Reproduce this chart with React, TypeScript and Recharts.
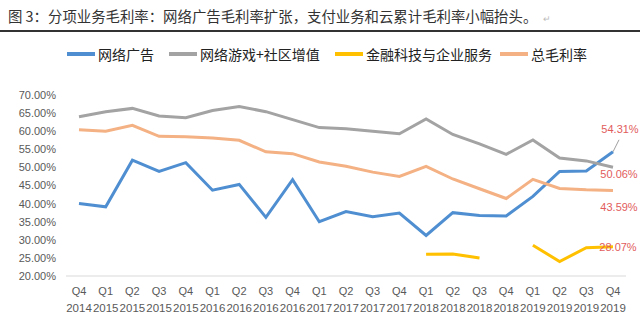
import React from 'react'
import { LineChart, Line, XAxis, YAxis, Legend } from 'recharts'

const quarters = ['Q4', 'Q1', 'Q2', 'Q3', 'Q4', 'Q1', 'Q2', 'Q3', 'Q4', 'Q1', 'Q2', 'Q3', 'Q4', 'Q1', 'Q2', 'Q3', 'Q4', 'Q1', 'Q2', 'Q3', 'Q4']
const years = ['2014', '2015', '2015', '2015', '2015', '2016', '2016', '2016', '2016', '2017', '2017', '2017', '2017', '2018', '2018', '2018', '2018', '2019', '2019', '2019', '2019']

// 网络广告
const adValues = [40.0, 39.1, 52.0, 48.9, 51.3, 43.7, 45.3, 36.2, 46.6, 35.0, 37.8, 36.4, 37.4, 31.2, 37.5, 36.7, 36.6, 42.0, 48.9, 49.0, 54.31]
// 网络游戏+社区增值
const gameValues = [64.0, 65.4, 66.3, 64.2, 63.7, 65.7, 66.8, 65.4, 63.2, 61.0, 60.7, 60.0, 59.3, 63.4, 59.1, 56.5, 53.6, 57.6, 52.6, 51.8, 50.06]
// 金融科技与企业服务
const fintechValues: (number | null)[] = [null, null, null, null, null, null, null, null, null, null, null, null, null, 26.0, 26.1, 25.0, null, 28.5, 24.0, 27.8, 28.07]
// 总毛利率
const totalValues = [60.4, 60.0, 61.6, 58.6, 58.5, 58.1, 57.5, 54.3, 53.8, 51.5, 50.3, 48.7, 47.5, 50.3, 46.8, 44.1, 41.4, 46.7, 44.2, 43.8, 43.59]

const yTicks = [20, 25, 30, 35, 40, 45, 50, 55, 60, 65, 70]
const seriesNames = ['网络广告', '网络游戏+社区增值', '金融科技与企业服务', '总毛利率']

const data = quarters.map((q, i) => ({
  name: `${q} ${years[i]}`,
  q,
  year: years[i],
  ad: adValues[i],
  game: gameValues[i],
  fintech: fintechValues[i],
  total: totalValues[i],
}))

const LAST = quarters.length - 1
const numFont = '"Liberation Sans", Arial, sans-serif'
const cjkFont = '"Noto Sans CJK SC", sans-serif'

const QuarterTick = (props: any) => {
  const { x, y, payload } = props
  const d = data[payload.index] || data.find((r) => r.name === payload.value)
  return (
    <g fontFamily={numFont} fill="#595959">
      <text x={x} y={y + 11} textAnchor="middle" fontSize={11}>{d ? d.q : ''}</text>
      <text x={x} y={y + 28} textAnchor="middle" fontSize={11.5}>{d ? d.year : ''}</text>
    </g>
  )
}

const endLabel = (dx: number, dy: number, leader?: boolean) => (props: any) => {
  const { x, y, value, index } = props
  if (index !== LAST || value == null) return null
  return (
    <g>
      {leader && <line x1={x} y1={y} x2={x + 6} y2={y - 12} stroke="#a0a0a0" strokeWidth={1} />}
      <text x={x + dx} y={y + dy} textAnchor="middle" fontFamily={numFont} fontSize={11} fill="#e25c5c">
        {`${value.toFixed(2)}%`}
      </text>
    </g>
  )
}

const legendLeft = [67, 169, 335, 500]

const LegendContent = (props: any) => {
  const items = props.payload || []
  return (
    <div style={{ position: 'relative', width: 640, height: 20 }}>
      {seriesNames.map((n, i) => {
        const it = items.find((p: any) => p.value === n)
        return (
          <div key={n} style={{ position: 'absolute', left: legendLeft[i], top: 0, display: 'flex', alignItems: 'center', whiteSpace: 'nowrap' }}>
            <span style={{ display: 'inline-block', width: 28, height: 4, background: it ? it.color : '#ccc', marginRight: 3 }} />
            <span style={{ fontFamily: cjkFont, fontSize: 14, color: '#222', lineHeight: '18px' }}>{n}</span>
          </div>
        )
      })}
    </div>
  )
}

export default function App() {
  return (
    <div style={{ position: 'absolute', left: 0, top: 0, width: 640, height: 330, background: '#fff', overflow: 'hidden' }}>
      <div style={{ position: 'absolute', left: 8, top: 5, fontFamily: cjkFont, fontSize: 14.4, color: '#333', whiteSpace: 'nowrap' }}>
        图 3：分项业务毛利率：网络广告毛利率扩张，支付业务和云累计毛利率小幅抬头。<span style={{ color: '#bbb', fontSize: 9, marginLeft: 6 }}>↵</span>
      </div>
      <div style={{ position: 'absolute', left: 0, top: 30, width: 640, height: 2, background: '#333' }} />
      <LineChart width={640} height={330} data={data} margin={{ top: 75, right: 14, bottom: 9, left: 6 }}>
        <XAxis
          dataKey="name"
          interval={0}
          tick={<QuarterTick />}
          tickLine={false}
          axisLine={{ stroke: '#d9d9d9' }}
          padding={{ left: 13, right: 13 }}
          height={45}
        />
        <YAxis
          domain={[20, 70]}
          ticks={yTicks}
          interval={0}
          axisLine={false}
          tickLine={false}
          tickSize={0}
          tickMargin={10}
          width={60}
          tick={{ fontFamily: numFont, fontSize: 11, fill: '#595959' }}
          tickFormatter={(v: number) => `${v.toFixed(2)}%`}
        />
        <Legend verticalAlign="top" content={<LegendContent />} wrapperStyle={{ position: 'absolute', top: 45, left: 0, width: 640 }} />
        <Line dataKey="ad" name="网络广告" stroke="#4f8fd1" strokeWidth={3} dot={false} isAnimationActive={false} label={endLabel(7, -19, true)} />
        <Line dataKey="game" name="网络游戏+社区增值" stroke="#a3a3a3" strokeWidth={3} dot={false} isAnimationActive={false} label={endLabel(6, 11)} />
        <Line dataKey="fintech" name="金融科技与企业服务" stroke="#ffc000" strokeWidth={3} dot={false} isAnimationActive={false} label={endLabel(5, 4)} />
        <Line dataKey="total" name="总毛利率" stroke="#f4b183" strokeWidth={3} dot={false} isAnimationActive={false} label={endLabel(6, 20)} />
      </LineChart>
    </div>
  )
}
